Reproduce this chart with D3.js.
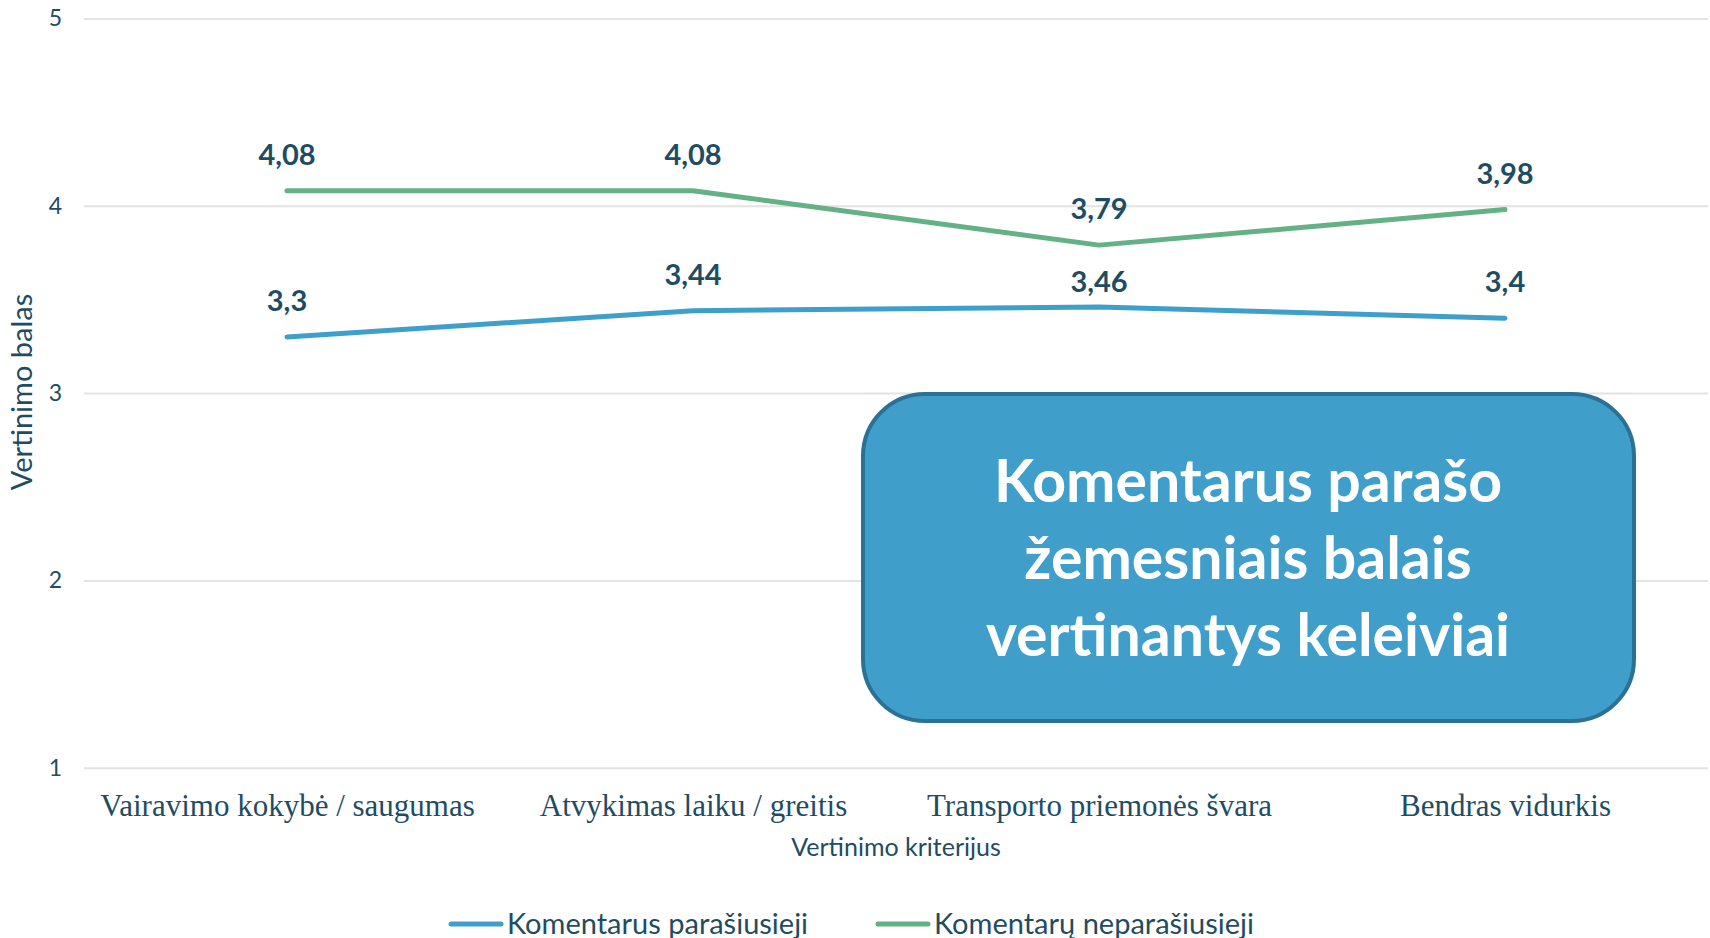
<!DOCTYPE html>
<html>
<head>
<meta charset="utf-8">
<script src="https://cdn.jsdelivr.net/npm/d3@7"></script>
<style>
  body { margin: 0; background: #fff; }
  svg { display: block; }
</style>
</head>
<body>
<div class="container"></div>
<script>
var categories = ['Vairavimo kokybė / saugumas', 'Atvykimas laiku / greitis', 'Transporto priemonės švara', 'Bendras vidurkis'];
var parasiusieji = [3.3, 3.44, 3.46, 3.4];
var neparasiusieji = [4.08, 4.08, 3.79, 3.98];
var seriesNames = ['Komentarus parašiusieji', 'Komentarų neparašiusieji'];
var yTicks = [1, 2, 3, 4, 5];
var calloutLines = ['Komentarus parašo', 'žemesniais balais', 'vertinantys keleiviai'];

var w = 1710;
var h = 938;
var plotLeft = 84, plotRight = 1708;
var plotTop = 18.5, plotBottom = 767.7;

var blue = '#3f9fcb';
var green = '#63b185';
var ink = '#1e4d63';
var sans = 'Lato, "Open Sans", sans-serif';

var svg = d3.select('.container')
  .append('svg')
  .attr('width', w)
  .attr('height', h);

var xScale = d3.scalePoint()
  .domain(categories)
  .range([plotLeft, plotRight])
  .padding(0.5);

var yScale = d3.scaleLinear()
  .domain([1, 5])
  .range([plotBottom, plotTop]);

/* gridlines + y labels */
var yAxis = d3.axisLeft(yScale)
  .tickValues(yTicks)
  .tickSize(-(plotRight - plotLeft))
  .tickPadding(22)
  .tickFormat(d3.format('d'));

var gy = svg.append('g')
  .attr('transform', 'translate(' + plotLeft + ',0)')
  .call(yAxis);
gy.select('.domain').remove();
gy.selectAll('.tick line').attr('stroke', '#e3e3e3').attr('stroke-width', 2);
gy.selectAll('.tick text')
  .attr('fill', ink)
  .style('font', '23px ' + sans);

/* x labels */
var xAxis = d3.axisBottom(xScale).tickSize(0).tickPadding(26);
var gx = svg.append('g')
  .attr('transform', 'translate(0,' + plotBottom + ')')
  .call(xAxis);
gx.select('.domain').remove();
gx.selectAll('.tick text')
  .attr('fill', ink)
  .style('font', '31px "Liberation Serif", serif');

/* axis titles */
svg.append('text')
  .attr('x', (plotLeft + plotRight) / 2)
  .attr('y', 856)
  .attr('text-anchor', 'middle')
  .attr('fill', ink)
  .style('font', '25px ' + sans)
  .text('Vertinimo kriterijus');

svg.append('text')
  .attr('transform', 'translate(32,392) rotate(-90)')
  .attr('text-anchor', 'middle')
  .attr('fill', ink)
  .style('font', '29px ' + sans)
  .text('Vertinimo balas');

/* lines */
var series = [
  { name: seriesNames[0], values: parasiusieji, color: blue },
  { name: seriesNames[1], values: neparasiusieji, color: green }
];

var line = d3.line()
  .x(function(d, i) { return xScale(categories[i]); })
  .y(function(d) { return yScale(d); });

series.forEach(function(s, si) {
  svg.append('path')
    .datum(s.values)
    .attr('d', line)
    .attr('fill', 'none')
    .attr('stroke', s.color)
    .attr('stroke-width', 5)
    .attr('stroke-linecap', 'round')
    .attr('stroke-linejoin', 'round');

  svg.selectAll(null)
    .data(s.values)
    .enter()
    .append('text')
    .attr('x', function(d, i) { return xScale(categories[i]); })
    .attr('y', function(d, i) {
      // blue label under the green dip is pushed down a little, like the original
      var nudge = (si === 0 && i === 2) ? 11 : 0;
      return yScale(d) - 26 + nudge;
    })
    .attr('text-anchor', 'middle')
    .attr('fill', ink)
    .style('font', 'bold 29px ' + sans)
    .text(function(d) { return String(d).replace('.', ','); });
});

/* callout box */
var box = svg.append('g');
box.append('rect')
  .attr('x', 863)
  .attr('y', 394)
  .attr('width', 771)
  .attr('height', 327)
  .attr('rx', 62)
  .attr('ry', 62)
  .attr('fill', '#3f9fca')
  .attr('stroke', '#2b7196')
  .attr('stroke-width', 4);

box.selectAll('text')
  .data(calloutLines)
  .enter()
  .append('text')
  .attr('x', 1248)
  .attr('y', function(d, i) { return 502 + i * 77; })
  .attr('text-anchor', 'middle')
  .attr('fill', '#fff')
  .style('font', 'bold 59px ' + sans)
  .text(function(d) { return d; });

/* legend */
var legendX = [449, 876];
var legend = svg.selectAll('.legend')
  .data(series)
  .enter()
  .append('g')
  .attr('class', 'legend')
  .attr('transform', function(d, i) { return 'translate(' + legendX[i] + ',924)'; });

legend.append('line')
  .attr('x1', 2).attr('x2', 52)
  .attr('stroke', function(d) { return d.color; })
  .attr('stroke-width', 5)
  .attr('stroke-linecap', 'round');

legend.append('text')
  .attr('x', 58)
  .attr('y', 10)
  .attr('fill', ink)
  .style('font', '29px ' + sans)
  .text(function(d) { return d.name; });
</script>
</body>
</html>
